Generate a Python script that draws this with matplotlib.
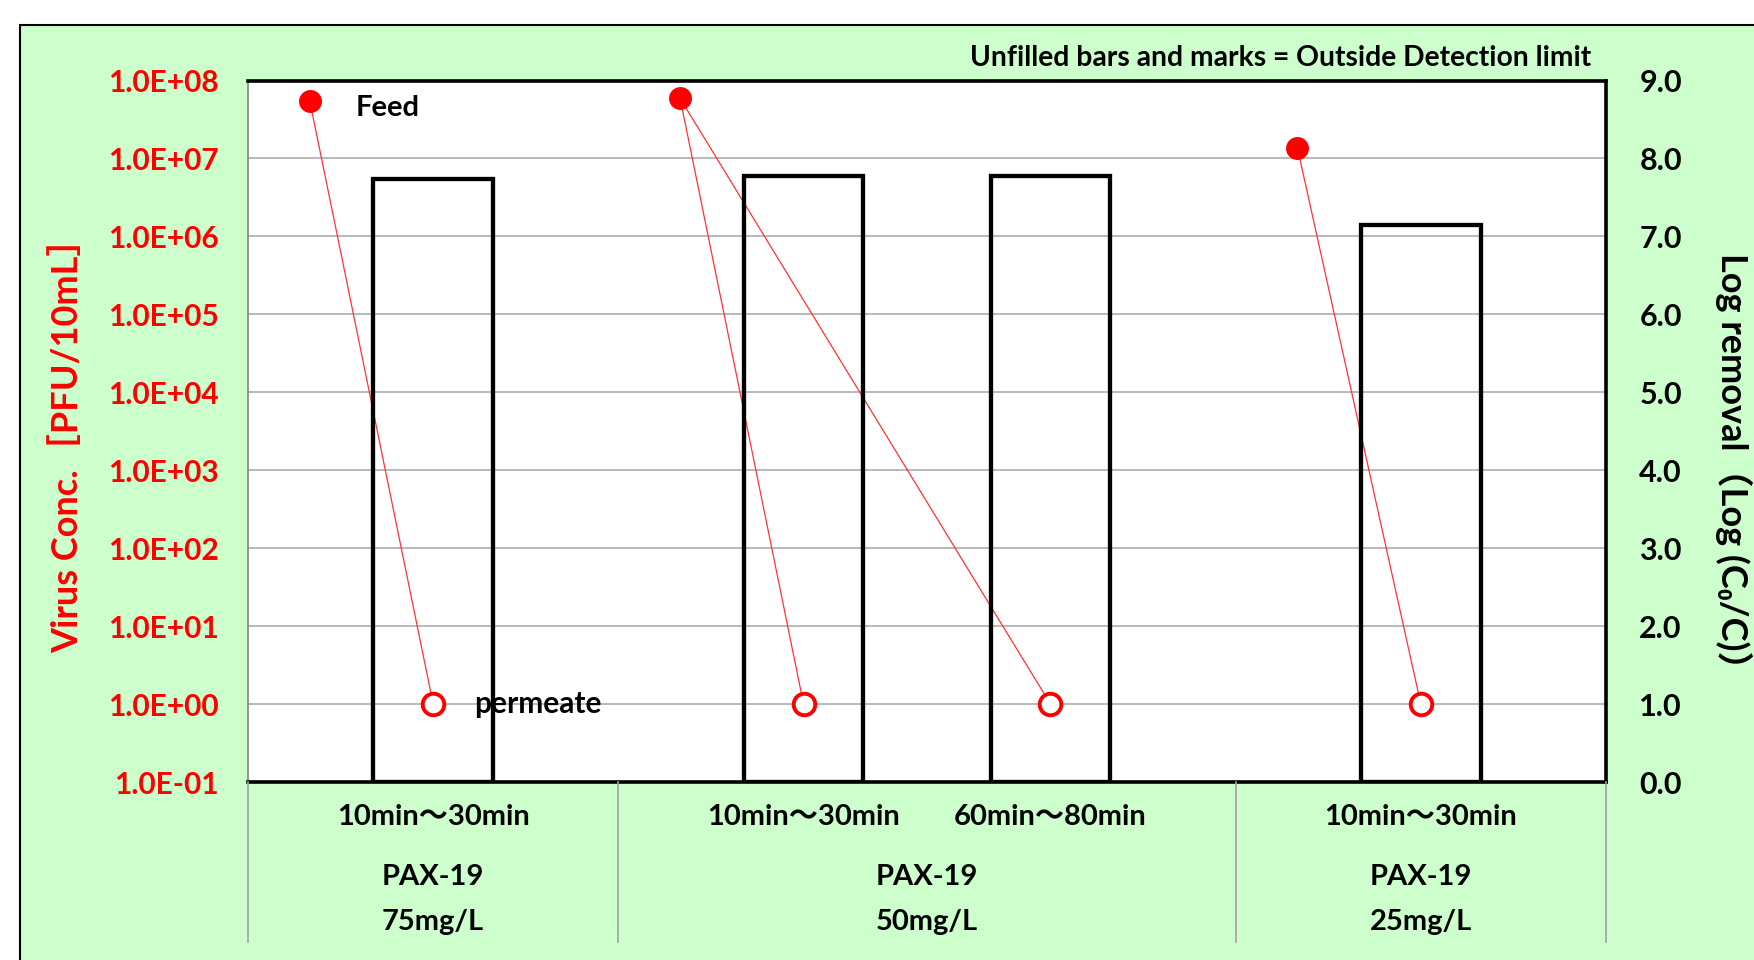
import matplotlib
matplotlib.use("Agg")
import matplotlib.pyplot as plt
from matplotlib.patches import Rectangle
from matplotlib.lines import Line2D
from matplotlib.ticker import NullLocator
import matplotlib.transforms as mtransforms

plt.rcParams['font.family'] = ['Lato', 'Noto Sans CJK JP', 'DejaVu Sans']
plt.rcParams['font.weight'] = 'bold'

# ---- data ----
group_labels = ["PAX-19\n75mg/L", "PAX-19\n50mg/L", "PAX-19\n25mg/L"]
time_labels = ["10min～30min", "10min～30min", "60min～80min", "10min～30min"]
sample_group = [0, 1, 1, 2]
feed_conc = [5.5e7, 5.9e7, 1.38e7]          # PFU/10mL, one per group
permeate_conc = [1.0, 1.0, 1.0, 1.0]        # PFU/10mL (below detection)
log_removal = [7.74, 7.77, 7.77, 7.14]      # Log(C0/C)
left_ticks = [1e-1, 1e0, 1e1, 1e2, 1e3, 1e4, 1e5, 1e6, 1e7, 1e8]
left_ticklabels = ["1.0E-01", "1.0E+00", "1.0E+01", "1.0E+02", "1.0E+03",
                   "1.0E+04", "1.0E+05", "1.0E+06", "1.0E+07", "1.0E+08"]
right_ticks = [0, 1, 2, 3, 4, 5, 6, 7, 8, 9]
right_ticklabels = ["0.0", "1.0", "2.0", "3.0", "4.0", "5.0", "6.0", "7.0", "8.0", "9.0"]

# ---- layout: each group = feed slot + (gap, sample) slots ----
n_per_group = [sample_group.count(g) for g in range(len(group_labels))]
group_start, feed_x, sample_x = [], [], []
pos = 0
for g, n in enumerate(n_per_group):
    group_start.append(pos)
    feed_x.append(pos + 0.5)
    for i in range(n):
        sample_x.append(pos + 1.5 + 2 * i)
    pos += 2 * n + 1
total_slots = pos
group_bounds = group_start + [total_slots]

W, H = 1754, 960
fig = plt.figure(figsize=(W / 100, H / 100), dpi=100)
fig.patch.set_facecolor("white")
fig.patches.append(Rectangle((20 / W, -0.02), 1.1, 1 - 25 / H + 0.02,
                             transform=fig.transFigure, facecolor="#CCFFCC",
                             edgecolor="black", linewidth=1.5, zorder=-10))

L, R, B, T = 248 / W, 1606 / W, 1 - 782 / H, 1 - 80.5 / H
ax = fig.add_axes([L, B, R - L, T - B])
ax.set_facecolor("white")
ax.set_yscale("log")
ax.set_ylim(1e-1, 1e8)
ax.set_xlim(0, total_slots)
ax.set_yticks(left_ticks)
ax.set_yticklabels(left_ticklabels)
ax.yaxis.set_minor_locator(NullLocator())
ax.set_xticks([])
ax.tick_params(axis="y", length=0, pad=21, labelsize=21.5, labelcolor="red")
ax.grid(axis="y", color="#A6A6A6", linewidth=1.1)
ax.set_axisbelow(True)
for s in ["top", "right", "bottom"]:
    ax.spines[s].set_color("black")
    ax.spines[s].set_linewidth(2.6)
ax.spines["left"].set_color("#808080")
ax.spines["left"].set_linewidth(1.2)

# lines feed -> permeate
for i, (xs, g) in enumerate(zip(sample_x, sample_group)):
    ax.plot([feed_x[g], xs], [feed_conc[g], permeate_conc[i]], color="#FF3333",
            linewidth=0.9, zorder=3)
ax.plot(feed_x, feed_conc, linestyle="none", marker="o", markersize=15.5,
        color="red", zorder=4)
ax.plot(sample_x, permeate_conc, linestyle="none", marker="o", markersize=15.5,
        markerfacecolor="white", markeredgecolor="red", markeredgewidth=2.8, zorder=4)

ax.annotate("Feed", xy=(feed_x[0], feed_conc[0]), xytext=(46, -7),
            textcoords="offset pixels", fontsize=21, va="center", ha="left")
ax.annotate("permeate", xy=(sample_x[0], permeate_conc[0]), xytext=(41, 0),
            textcoords="offset pixels", fontsize=21.5, va="center", ha="left")

ax2 = ax.twinx()
ax2.set_ylim(0, 9)
ax2.set_yticks(right_ticks)
ax2.set_yticklabels(right_ticklabels)
ax2.tick_params(axis="y", length=0, pad=24, labelsize=22, labelcolor="black")
for s in ax2.spines.values():
    s.set_visible(False)
ax2.bar(sample_x, log_removal, width=0.97, facecolor="none",
        edgecolor="black", linewidth=3.1, zorder=2)

# category labels
trans = mtransforms.blended_transform_factory(ax.transData, fig.transFigure)
for xs, lab in zip(sample_x, time_labels):
    fig.text(xs, 1 - 817 / H, lab, transform=trans, ha="center", va="center",
             fontsize=21)
for g, lab in enumerate(group_labels):
    cx = (group_bounds[g] + group_bounds[g + 1]) / 2
    for k, line in enumerate(lab.split("\n")):
        fig.text(cx, 1 - (877 + 45 * k) / H, line, transform=trans,
                 ha="center", va="center", fontsize=21)
for xb in group_bounds:
    fig.lines.append(Line2D([xb, xb], [B, 1 - 942 / H], transform=trans,
                            color="#A0A0A0", linewidth=1.2))

fig.text(1591 / W, 1 - 58 / H, "Unfilled bars and marks = Outside Detection limit",
         ha="right", va="center", fontsize=20.3)
fig.text(67 / W, 1 - 436 / H, "Virus Conc.［PFU/10mL］", rotation=90,
         ha="center", va="center", fontsize=26, color="red")
fig.text(1734 / W, 1 - 470 / H, "Log removal（Log (C₀/C)）", rotation=-90,
         ha="center", va="center", fontsize=26, color="black")

fig.savefig("out.png", dpi=100)
